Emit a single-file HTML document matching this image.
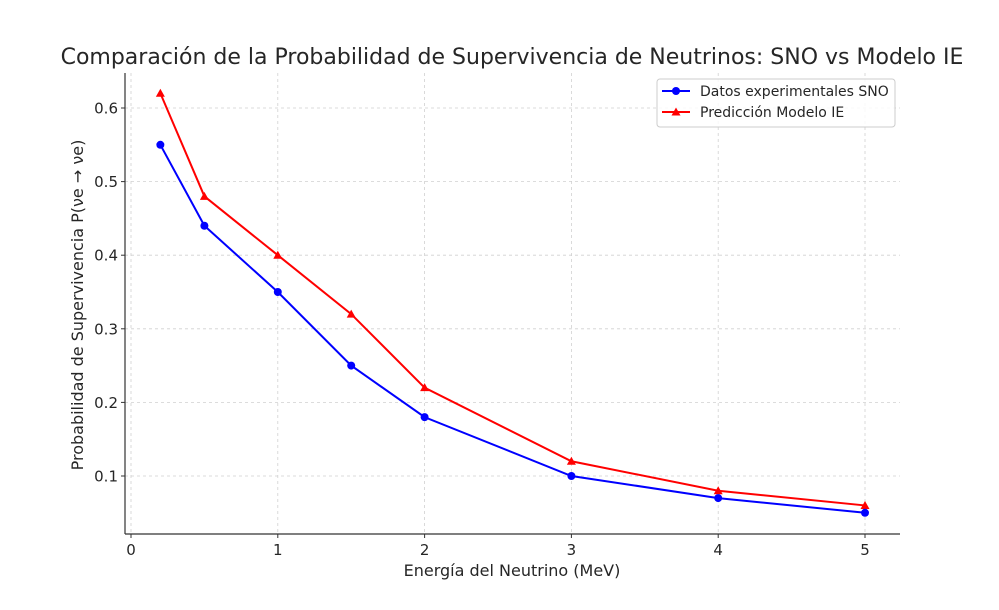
<!DOCTYPE html>
<html><head><meta charset="utf-8"><style>
body{margin:0;background:#fff;}
svg text{font-family:"DejaVu Sans","Liberation Sans",sans-serif;fill:#262626;}
</style></head><body>
<svg id="chart" width="999" height="605" viewBox="0 0 999 605" xmlns="http://www.w3.org/2000/svg">
<text x="512" y="64" font-size="22" text-anchor="middle">Comparación de la Probabilidad de Supervivencia de Neutrinos: SNO vs Modelo IE</text>
<g id="grid"></g>
<g id="axes"></g>
<g id="series"></g>
<text x="512" y="576" font-size="16" text-anchor="middle">Energía del Neutrino (MeV)</text>
<text transform="translate(83,305) rotate(-90)" font-size="16" text-anchor="middle">Probabilidad de Supervivencia P(νe → νe)</text>
<g>
<rect x="657" y="79" width="238" height="48" rx="3" fill="#fff" fill-opacity="0.8" stroke="#ccc"/>
<g>
<line x1="662" y1="91" x2="690" y2="91" stroke="#0000ff" stroke-width="2"/><circle cx="676" cy="91" r="4" fill="#0000ff"/>
<text x="700" y="96" font-size="14">Datos experimentales SNO</text></g>
<g>
<line x1="662" y1="112" x2="690" y2="112" stroke="#ff0000" stroke-width="2"/><polygon points="676,107.5 680.5,115.5 671.5,115.5" fill="#ff0000"/>
<text x="700" y="117" font-size="14">Predicción Modelo IE</text></g>
</g>
</svg>
<script>
const energies=[0.2,0.5,1,1.5,2,3,4,5];
const snoValues=[0.55,0.44,0.35,0.25,0.18,0.10,0.07,0.05];
const ieValues=[0.62,0.48,0.40,0.32,0.22,0.12,0.08,0.06];
const xTicks=[0,1,2,3,4,5];
const yTicks=[0.1,0.2,0.3,0.4,0.5,0.6];
const NS="http://www.w3.org/2000/svg";
const L=125,R=900,T=73,B=534;
const xs=v=>131+v*146.8;
const ys=v=>476-(v-0.1)*736;
function mk(tag,attrs,parent){const e=document.createElementNS(NS,tag);for(const k in attrs)e.setAttribute(k,attrs[k]);parent.appendChild(e);return e;}
const grid=document.getElementById('grid'),axes=document.getElementById('axes'),ser=document.getElementById('series');
xTicks.forEach(t=>{
 const g=mk('line',{x1:xs(t),x2:xs(t),y1:T,y2:B,stroke:'#d0d0d0','stroke-dasharray':'3,3','stroke-width':0.8},grid);
 
 
 mk('line',{x1:xs(t),x2:xs(t),y1:B,y2:B+4,stroke:'#333'},axes);
 const tx=mk('text',{x:xs(t),y:B+21,'font-size':15,'text-anchor':'middle'},axes);tx.textContent=t;
 
 
});
yTicks.forEach(t=>{
 const g=mk('line',{x1:L,x2:R,y1:ys(t),y2:ys(t),stroke:'#d0d0d0','stroke-dasharray':'3,3','stroke-width':0.8},grid);
 
 
 mk('line',{x1:L-4,x2:L,y1:ys(t),y2:ys(t),stroke:'#333'},axes);
 const tx=mk('text',{x:L-7,y:ys(t)+5.5,'font-size':15,'text-anchor':'end'},axes);tx.textContent=t.toFixed(1);
 
 
});
mk('line',{x1:L,x2:L,y1:T,y2:B,stroke:'#333','stroke-width':1.2},axes);
mk('line',{x1:L,x2:R,y1:B,y2:B,stroke:'#333','stroke-width':1.2},axes);
function series(vals,color,marker,name){
 const pts=energies.map((e,i)=>xs(e)+','+ys(vals[i])).join(' ');
 const pl=mk('polyline',{points:pts,fill:'none',stroke:color,'stroke-width':2},ser);
 
 
 energies.forEach((e,i)=>{
  const x=xs(e),y=ys(vals[i]);let m;
  if(marker==='o')m=mk('circle',{cx:x,cy:y,r:4,fill:color},ser);
  else m=mk('polygon',{points:`${x},${y-4.5} ${x+4.5},${y+3.5} ${x-4.5},${y+3.5}`,fill:color},ser);
  
  
 });
}
series(ieValues,'#ff0000','^','ie-model');
series(snoValues,'#0000ff','o','sno-data');
</script>
</body></html>
